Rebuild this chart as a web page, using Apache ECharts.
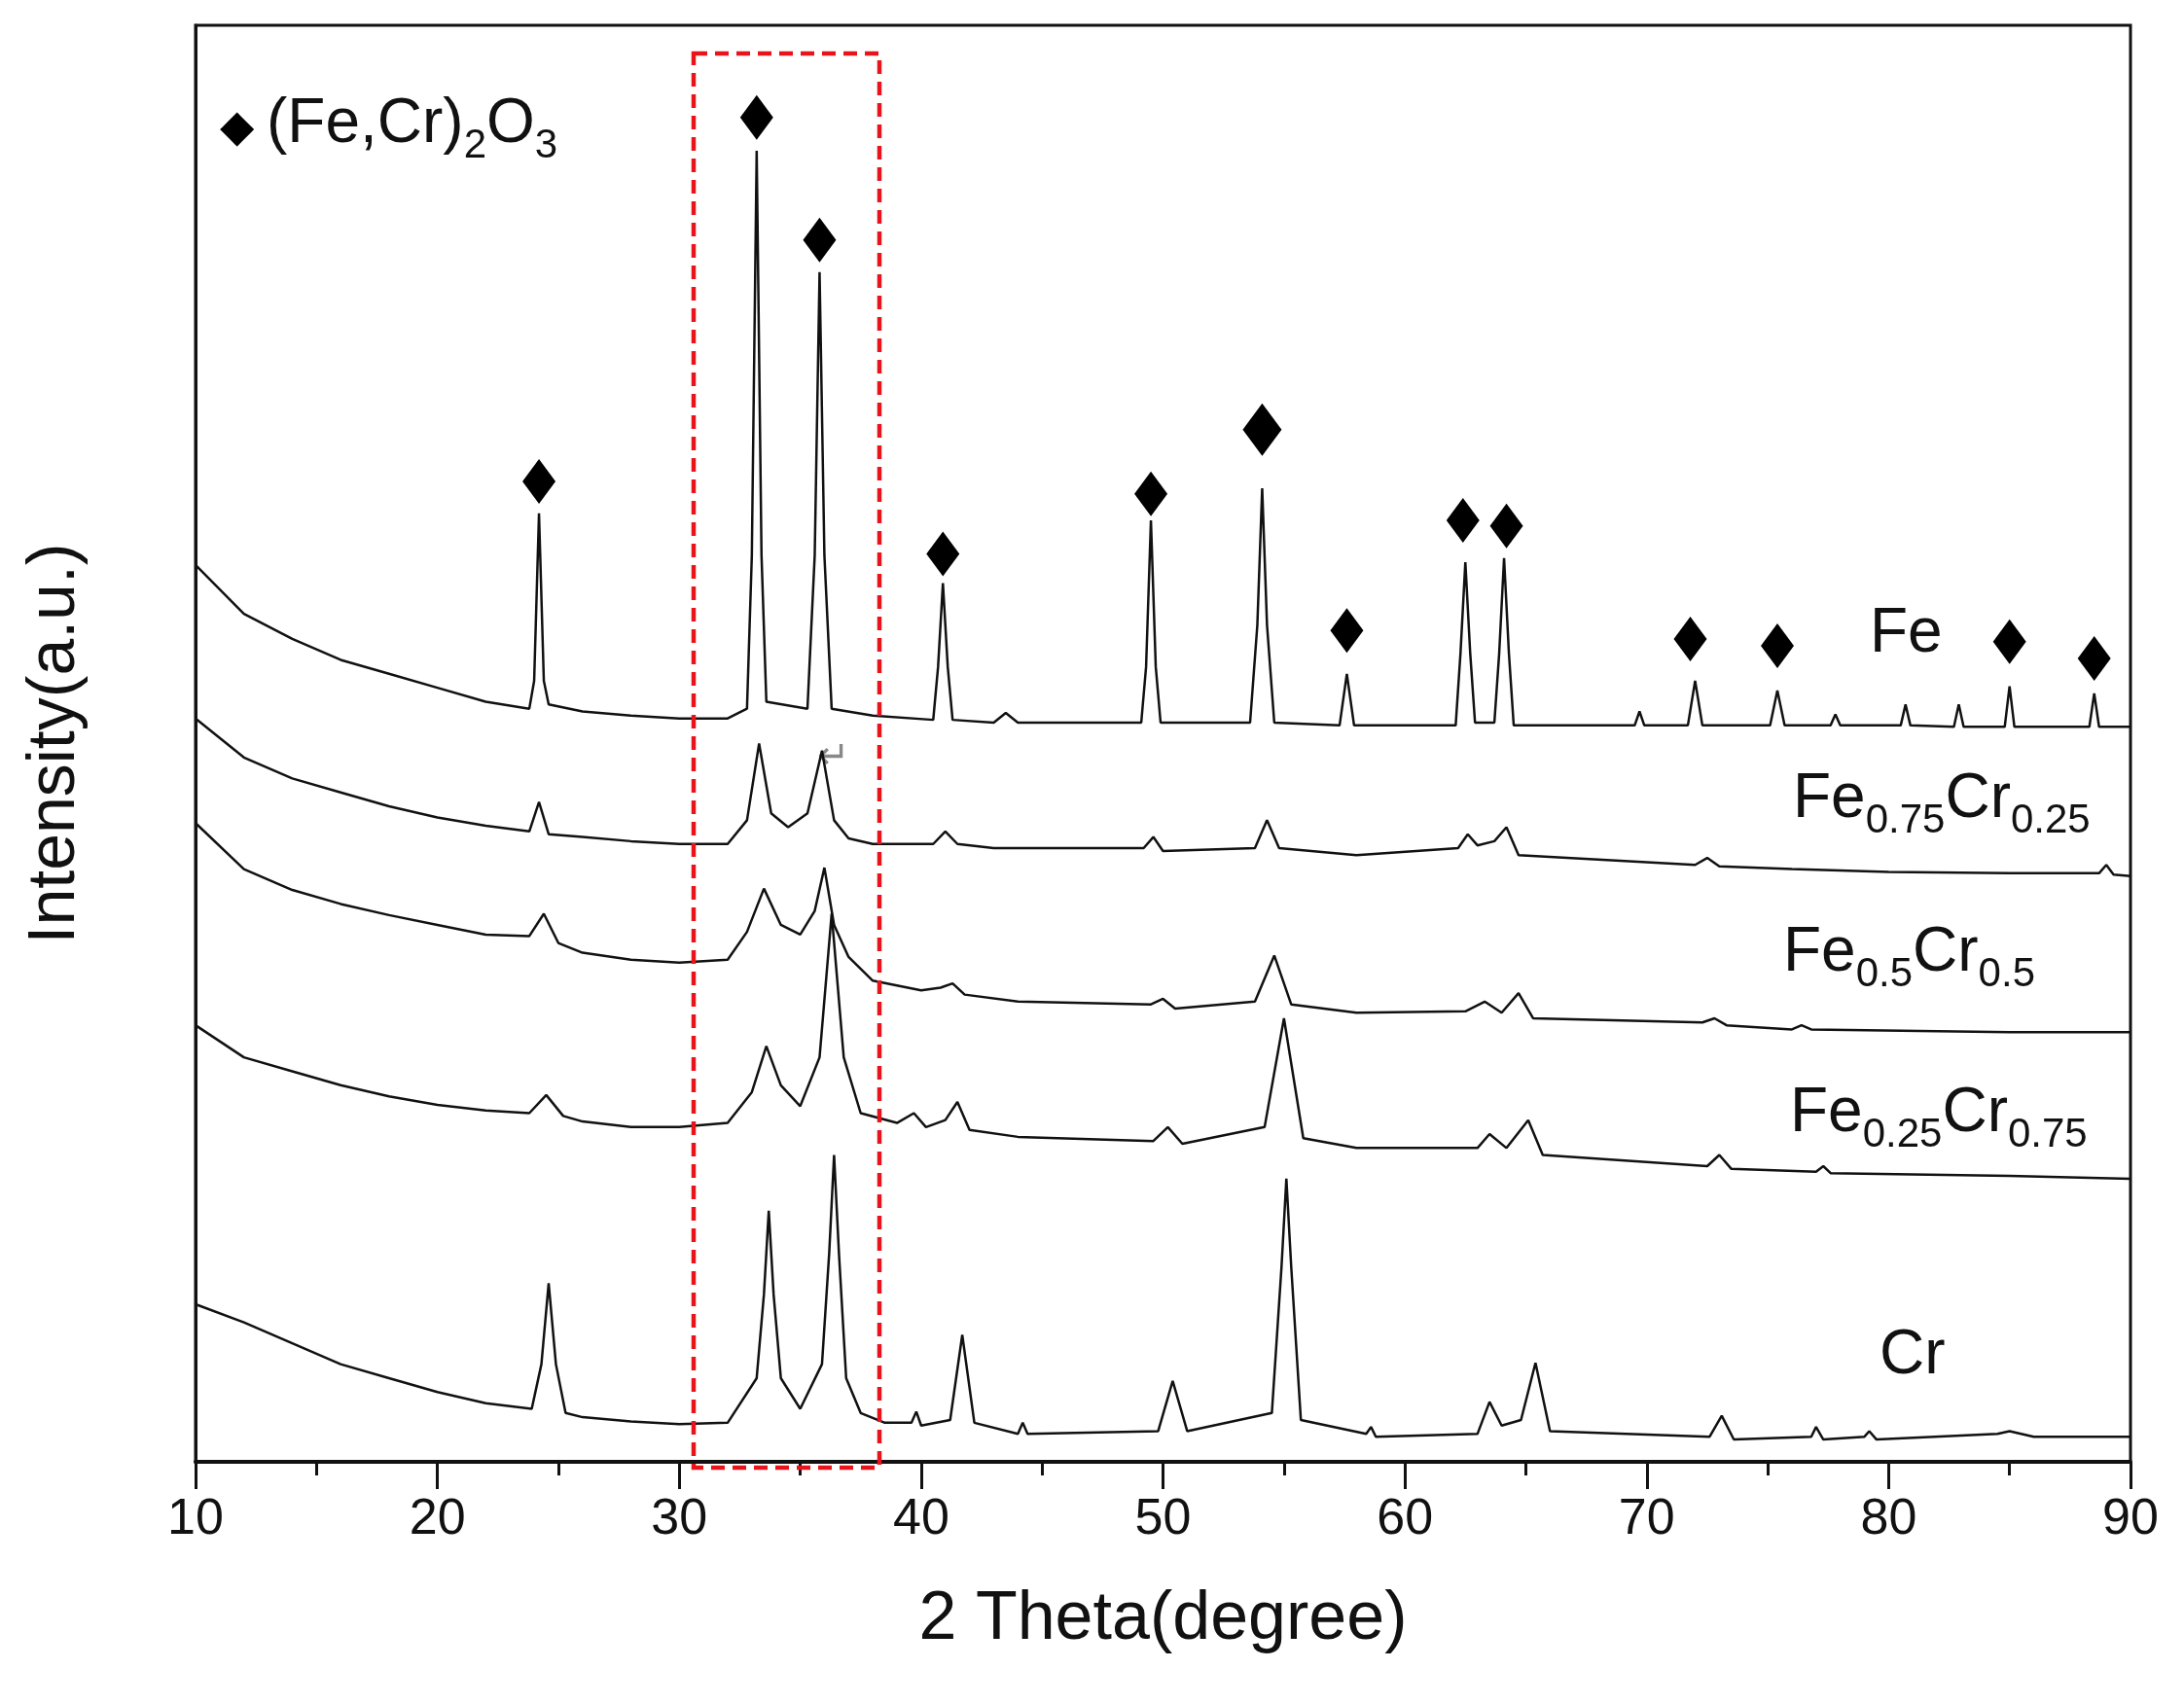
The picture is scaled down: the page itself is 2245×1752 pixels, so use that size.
<!DOCTYPE html>
<html>
<head>
<meta charset="utf-8">
<script src="https://cdn.jsdelivr.net/npm/echarts@6/dist/echarts.min.js"></script>
<style>html,body{margin:0;padding:0;background:#fff}#main{width:2245px;height:1752px}</style>
</head>
<body>
<div id="main"></div>
<script>
// 2 theta ticks
const xTicks = [10, 20, 30, 40, 50, 60, 70, 80, 90];

// patterns, [2theta, offset intensity]
const feData = [[10,643],[12,608],[14,590],[16,575],[18,565],[20,555],[22,545],[23.8,540],[24.0,560],[24.2,680],[24.4,560],[24.6,543],[26,538],[28,535],[30,533],[32,533],[32.8,540],[33.0,650],[33.2,940],[33.4,650],[33.6,545],[35.3,540],[35.6,650],[35.8,853],[36.0,650],[36.3,540],[38,535],[40.5,532],[40.7,570],[40.9,630],[41.1,570],[41.3,532],[43,530],[43.5,537],[44,530],[49.1,530],[49.3,570],[49.5,675],[49.7,570],[49.9,530],[53.6,530],[53.9,600],[54.1,698],[54.3,600],[54.6,530],[57.3,528],[57.6,565],[57.9,528],[62.1,528],[62.3,580],[62.5,645],[62.7,580],[62.9,530],[63.7,530],[63.9,580],[64.1,648],[64.3,580],[64.5,528],[69.5,528],[69.7,538],[69.9,528],[71.7,528],[72.0,560],[72.3,528],[75.1,528],[75.4,553],[75.7,528],[77.6,528],[77.8,536],[78.0,528],[80.5,528],[80.7,543],[80.9,528],[82.7,527],[82.9,543],[83.1,527],[84.8,527],[85.0,556],[85.2,527],[88.3,527],[88.5,551],[88.7,527],[90,527]];
const fe75Data = [[10,533],[12,505],[14,490],[16,480],[18,470],[20,462],[22,456],[23.8,452],[24.2,473],[24.6,450],[26,448],[28,445],[30,443],[32,443],[32.8,460],[33.3,515],[33.8,465],[34.5,455],[35.3,465],[35.9,510],[36.4,460],[37,447],[38,443],[40.5,443],[41,452],[41.5,443],[43,440],[49.2,440],[49.6,448],[50,438],[53.8,440],[54.3,460],[54.8,440],[58,435],[62.2,440],[62.6,450],[63,442],[63.7,445],[64.2,455],[64.7,435],[72,428],[72.5,433],[73,427],[76,425],[80,423],[85,422],[88.7,422],[89,428],[89.3,421],[90,420]];
const fe50Data = [[10,458],[12,425],[14,410],[16,400],[18,392],[20,385],[22,378],[23.8,377],[24.4,393],[25.0,372],[26,365],[28,360],[30,358],[32,360],[32.8,380],[33.5,411],[34.2,385],[35.0,378],[35.6,395],[36.0,426],[36.4,385],[37,362],[38,345],[40,338],[40.8,340],[41.3,343],[41.8,335],[44,330],[49.5,328],[50,332],[50.5,325],[53.8,330],[54.6,363],[55.3,328],[58,322],[62.5,323],[63.3,330],[64,322],[64.7,336],[65.3,318],[72.3,315],[72.8,318],[73.3,313],[76,310],[76.4,313],[76.8,310],[85,308],[90,308]];
const fe25Data = [[10,313],[12,290],[14,280],[16,270],[18,262],[20,256],[22,252],[23.8,250],[24.5,263],[25.2,248],[26,244],[28,240],[30,240],[32,243],[33.0,265],[33.6,298],[34.2,270],[35.0,255],[35.8,290],[36.3,393],[36.8,290],[37.5,250],[39,243],[39.7,250],[40.2,240],[41,245],[41.5,258],[42,238],[44,233],[49.6,230],[50.2,240],[50.8,228],[54.2,240],[55,318],[55.8,232],[58,225],[63,225],[63.5,235],[64.2,225],[65.1,245],[65.7,220],[72.5,212],[73,220],[73.5,210],[77,208],[77.3,212],[77.6,207],[85,205],[90,203]];
const crData = [[10,113],[12,100],[14,85],[16,70],[18,60],[20,50],[22,42],[23.9,38],[24.3,70],[24.6,128],[24.9,70],[25.3,35],[26,32],[28,29],[30,27],[32,28],[33.2,60],[33.5,120],[33.7,180],[33.9,120],[34.2,60],[35.0,38],[35.9,70],[36.2,150],[36.4,220],[36.6,150],[36.9,60],[37.5,35],[38.5,28],[39.6,28],[39.8,36],[40.0,26],[41.2,30],[41.7,91],[42.2,28],[44,20],[44.2,28],[44.4,20],[49.8,22],[50.4,58],[51,22],[54.5,35],[54.9,140],[55.1,203],[55.3,140],[55.7,30],[58.4,20],[58.6,25],[58.8,18],[63,20],[63.5,43],[64,26],[64.8,30],[65.4,71],[66,22],[72.6,18],[73.1,33],[73.6,16],[76.8,18],[77,25],[77.3,16],[79,18],[79.2,22],[79.5,16],[84.5,20],[85,22],[86,18],[90,18]];

// (Fe,Cr)2O3 peak markers
const markerPos = [[24.2,703],[33.2,964],[35.8,876],[40.9,651],[49.5,694],[57.6,596],[62.4,675],[64.2,671],[71.8,590],[75.4,585],[85.0,588],[88.5,576]];
const bigMarkerPos = [[54.1,740]];

const chart = echarts.init(document.getElementById('main'));
const font = 'Liberation Sans, Arial, sans-serif';

function pattern(name, data) {
    return {
        name, type: 'line', data, showSymbol: false, smooth: false,
        lineStyle: { color: '#111', width: 2.5 }, z: 3
    };
}

function label(x, y, main, sub1, mid, sub2) {
    return {
        type: 'text', left: x, top: y,
        style: {
            text: sub1 ? `{m|${main}}{s|${sub1}}{m|${mid}}{s|${sub2}}` : `{m|${main}}`,
            rich: {
                m: { fontSize: 64, fontFamily: font, fill: '#111' },
                s: { fontSize: 42, fontFamily: font, fill: '#111', padding: [44, 0, 0, 0] }
            }
        }
    };
}

chart.setOption({
    backgroundColor: '#fff',
    animation: false,
    grid: { left: 201, right: 55, top: 26, bottom: 249, show: true, borderColor: '#111', borderWidth: 3 },
    xAxis: {
        type: 'value', min: 10, max: 90, interval: 10,
        name: '2 Theta(degree)', nameLocation: 'middle', nameGap: 128,
        nameTextStyle: { fontSize: 70, fontFamily: font, color: '#111' },
        axisLine: { lineStyle: { color: '#111', width: 4 } },
        axisTick: { length: 28, lineStyle: { width: 3, color: '#111' } },
        minorTick: { show: true, splitNumber: 2, length: 14, lineStyle: { width: 3, color: '#111' } },
        axisLabel: { fontSize: 52, fontFamily: font, color: '#111', margin: 34,
            formatter: v => xTicks.includes(v) ? String(v) : '' },
        splitLine: { show: false }
    },
    yAxis: {
        type: 'value', min: 0, max: 1030,
        name: 'Intensity(a.u.)', nameLocation: 'middle', nameGap: 110,
        nameTextStyle: { fontSize: 68, fontFamily: font, color: '#111' },
        axisLine: { show: true, lineStyle: { color: '#111', width: 3 } },
        axisTick: { show: false }, axisLabel: { show: false }, splitLine: { show: false }
    },
    series: [
        pattern('Fe', feData),
        pattern('Fe0.75Cr0.25', fe75Data),
        pattern('Fe0.5Cr0.5', fe50Data),
        pattern('Fe0.25Cr0.75', fe25Data),
        pattern('Cr', crData),
        { type: 'scatter', data: markerPos, symbol: 'diamond', symbolSize: [34, 46], itemStyle: { color: '#000', opacity: 1 }, z: 4 },
        { type: 'scatter', data: bigMarkerPos, symbol: 'diamond', symbolSize: [40, 54], itemStyle: { color: '#000', opacity: 1 }, z: 4 }
    ],
    graphic: [
        { type: 'rect', shape: { x: 713, y: 55, width: 191, height: 1454 },
          style: { fill: 'none', stroke: '#e8141b', lineWidth: 4.5, lineDash: [14, 8] }, z: 10 },
        { type: 'text', left: 226, top: 110, style: { text: '◆', fontSize: 46, fontFamily: 'DejaVu Sans', fill: '#000' } },
        label(274, 96, '(Fe,Cr)', '2', 'O', '3'),
        label(1922, 620, 'Fe'),
        label(1843, 790, 'Fe', '0.75', 'Cr', '0.25'),
        label(1833, 948, 'Fe', '0.5', 'Cr', '0.5'),
        label(1840, 1113, 'Fe', '0.25', 'Cr', '0.75'),
        label(1932, 1362, 'Cr'),
        { type: 'text', left: 840, top: 760, style: { text: '↵', fontSize: 40, fontFamily: 'DejaVu Sans', fill: '#888' } }
    ]
});
</script>
</body>
</html>
